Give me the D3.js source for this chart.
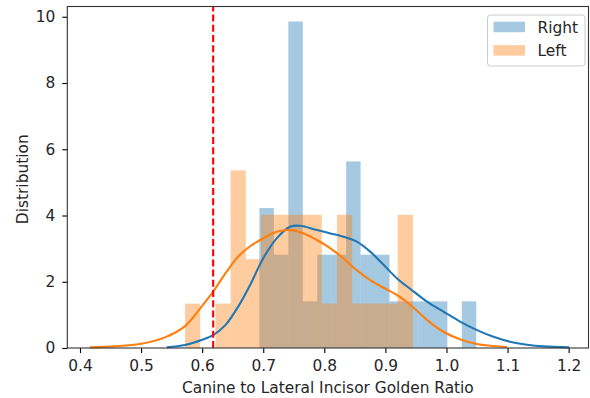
<!DOCTYPE html>
<html>
<head>
<meta charset="utf-8">
<script src="https://cdn.jsdelivr.net/npm/d3@7.9.0/dist/d3.min.js"></script>
<style>
  body { margin: 0; background: #fff; }
  svg { display: block; font-family: "DejaVu Sans", sans-serif; }
</style>
</head>
<body>
<svg id="chart" width="590" height="398"></svg>
<script>
// histogram bins (counts per bin, equal width bins)
const rightStart = 0.6937;
const rightBinWidth = 0.02367;
const rightCounts = [3, 2, 7, 1, 2, 2, 4, 2, 2, 1, 1, 1, 1, 0, 1];

const leftStart = 0.572;
const leftBinWidth = 0.02487;
const leftCounts = [1, 0, 1, 4, 2, 3, 3, 3, 3, 1, 3, 1, 1, 1, 3];

// kde curves
const rightKdeX = [0.542, 0.572, 0.599, 0.618, 0.638, 0.659, 0.679, 0.700, 0.722, 0.744, 0.760, 0.788, 0.810, 0.831, 0.853, 0.875, 0.897, 0.919, 0.941, 0.968, 0.995, 1.023, 1.050, 1.077, 1.104, 1.132, 1.159, 1.201];
const rightKdeY = [0.02, 0.09, 0.24, 0.39, 0.69, 1.25, 1.92, 2.71, 3.31, 3.66, 3.69, 3.56, 3.46, 3.36, 3.21, 2.91, 2.51, 2.10, 1.78, 1.40, 1.10, 0.79, 0.54, 0.34, 0.19, 0.10, 0.05, 0.02];

const leftKdeX = [0.416, 0.457, 0.498, 0.539, 0.572, 0.599, 0.618, 0.638, 0.659, 0.679, 0.700, 0.722, 0.744, 0.766, 0.788, 0.810, 0.831, 0.853, 0.875, 0.897, 0.919, 0.941, 0.968, 0.995, 1.023, 1.050, 1.077, 1.099];
const leftKdeY = [0.02, 0.05, 0.12, 0.32, 0.66, 1.25, 1.70, 2.25, 2.76, 3.08, 3.31, 3.51, 3.56, 3.46, 3.26, 3.01, 2.71, 2.35, 2.05, 1.82, 1.60, 1.30, 0.85, 0.49, 0.26, 0.12, 0.06, 0.03];

const goldenLine = 0.618;

const xTicks = [0.4, 0.5, 0.6, 0.7, 0.8, 0.9, 1.0, 1.1, 1.2];
const yTicks = [0, 2, 4, 6, 8, 10];

const seriesNames = ["Right", "Left"];
const seriesColors = ["#1f77b4", "#ff7f0e"];


const svg = d3.select("#chart");

const plotLeft = 67.3, plotRight = 588.5, plotTop = 6.5, plotBottom = 348;
const fontSize = 15.4;

const x = d3.scaleLinear().domain([0.3792, 1.2325]).range([plotLeft, plotRight]);
const y = d3.scaleLinear().domain([0, 10.31]).range([plotBottom, plotTop]);

function binsFrom(start, width, counts) {
    let n = d3.sum(counts);
    return counts.map((c, i) => ({
        x0: start + i * width,
        x1: start + (i + 1) * width,
        density: c / (n * width)
    }));
}

const histograms = [
    binsFrom(rightStart, rightBinWidth, rightCounts),
    binsFrom(leftStart, leftBinWidth, leftCounts)
];

// bars first (matplotlib patches sit below lines)
histograms.forEach((bins, idx) => {
    svg.append("g")
        .selectAll("rect")
        .data(bins.filter(b => b.density > 0))
        .join("rect")
        .attr("x", d => x(d.x0))
        .attr("width", d => x(d.x1) - x(d.x0))
        .attr("y", d => y(d.density))
        .attr("height", d => y(0) - y(d.density))
        .attr("fill", seriesColors[idx])
        .attr("fill-opacity", 0.4);
});

const kdes = [
    d3.zip(rightKdeX, rightKdeY),
    d3.zip(leftKdeX, leftKdeY)
];

const line = d3.line()
    .x(d => x(d[0]))
    .y(d => y(d[1]))
    .curve(d3.curveCatmullRom);

kdes.forEach((pts, idx) => {
    svg.append("path")
        .attr("d", line(pts))
        .attr("fill", "none")
        .attr("stroke", seriesColors[idx])
        .attr("stroke-width", 2.1);
});

svg.append("line")
    .attr("x1", x(goldenLine)).attr("x2", x(goldenLine))
    .attr("y1", y.range()[0]).attr("y2", y.range()[1])
    .attr("stroke", "red")
    .attr("stroke-width", 2.1)
    .attr("stroke-dasharray", "7,3.2");

// axes
const xAxis = svg.append("g")
    .attr("transform", `translate(0,${plotBottom})`)
    .call(d3.axisBottom(x).tickValues(xTicks).tickFormat(d3.format(".1f")).tickSizeOuter(0).tickSize(5).tickPadding(7.5));

const yAxis = svg.append("g")
    .attr("transform", `translate(${plotLeft},0)`)
    .call(d3.axisLeft(y).tickValues(yTicks).tickFormat(d3.format("d")).tickSizeOuter(0).tickSize(5).tickPadding(7));

[xAxis, yAxis].forEach(g => {
    g.select(".domain").remove();
    g.selectAll("line").attr("stroke", "#000").attr("stroke-width", 1.1);
    g.selectAll("text").attr("font-size", fontSize).attr("fill", "#262626").attr("font-family", "DejaVu Sans");
});

svg.append("rect")
    .attr("x", plotLeft).attr("y", plotTop)
    .attr("width", plotRight - plotLeft).attr("height", plotBottom - plotTop)
    .attr("fill", "none")
    .attr("stroke", "#333")
    .attr("stroke-width", 1.1);

svg.append("text")
    .attr("x", (plotLeft + plotRight) / 2)
    .attr("y", 393)
    .attr("text-anchor", "middle")
    .attr("font-size", fontSize)
    .attr("fill", "#262626")
    .text("Canine to Lateral Incisor Golden Ratio");

svg.append("text")
    .attr("transform", `translate(28,${(plotTop + plotBottom) / 2 + 2}) rotate(-90)`)
    .attr("text-anchor", "middle")
    .attr("font-size", fontSize)
    .attr("fill", "#262626")
    .text("Distribution");

// legend
const legend = svg.append("g").attr("transform", "translate(487.5,15)");
legend.append("rect")
    .attr("width", 97.5).attr("height", 51)
    .attr("rx", 3)
    .attr("fill", "#fff").attr("fill-opacity", 0.8)
    .attr("stroke", "#ccc");

seriesNames.forEach((name, idx) => {
    legend.append("rect")
        .attr("x", 6).attr("y", 6.7 + idx * 23.4)
        .attr("width", 31.5).attr("height", 10.5)
        .attr("fill", seriesColors[idx])
        .attr("fill-opacity", 0.4);
    legend.append("text")
        .attr("x", 50).attr("y", 17.5 + idx * 23.4)
        .attr("font-size", fontSize)
        .attr("fill", "#262626")
        .text(name);
});
</script>
</body>
</html>
